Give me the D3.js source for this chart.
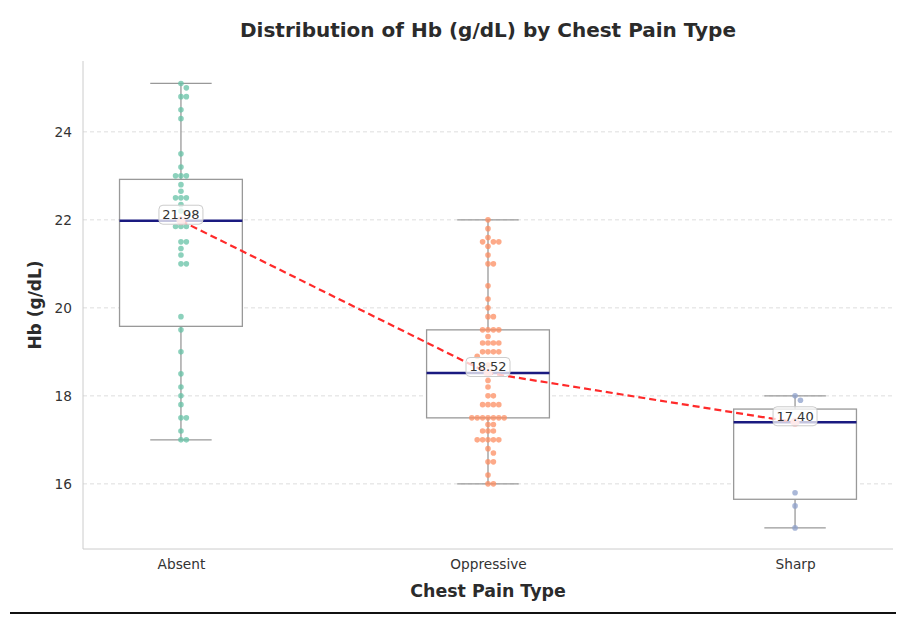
<!DOCTYPE html>
<html>
<head>
<meta charset="utf-8">
<script src="https://cdn.jsdelivr.net/npm/d3@7"></script>
<style>
  body { margin: 0; background: #fff; }
  text { font-family: "DejaVu Sans", sans-serif; }
</style>
</head>
<body>
<script>
// categories and per-group values
categories = ["Absent", "Oppressive", "Sharp"];

absentVals = [25.1, 25.0, 24.8, 24.8, 24.5, 24.3, 23.5, 23.2, 23.0, 23.0, 23.0, 22.8, 22.65,
  22.5, 22.5, 22.5, 22.35, 22.2, 22.0, 21.85, 21.85, 21.85, 21.5, 21.5, 21.35, 21.2, 21.0, 21.0,
  19.8, 19.5, 19.0, 18.5, 18.2, 18.0, 17.8, 17.5, 17.5, 17.2, 17.0, 17.0];
oppressiveVals = [22.0, 21.8, 21.6, 21.5, 21.5, 21.5, 21.4, 21.2, 21.0, 21.0, 20.5, 20.2, 20.0,
  19.8, 19.8, 19.5, 19.5, 19.5, 19.5, 19.35, 19.2, 19.2, 19.2, 19.2, 19.0, 19.0, 19.0, 19.0,
  18.9, 18.7, 18.5, 18.35, 18.2, 18.0, 18.0, 17.8, 17.8, 17.8, 17.8,
  17.5, 17.5, 17.5, 17.5, 17.5, 17.5, 17.5, 17.35, 17.35, 17.2, 17.2, 17.2,
  17.0, 17.0, 17.0, 17.0, 17.0, 16.8, 16.7, 16.5, 16.5, 16.2, 16.0, 16.0];
sharpVals = [18.0, 17.9, 17.4, 15.8, 15.5, 15.0];

// box statistics
q1s = [19.58, 17.5, 15.65];
medians = [21.98, 18.52, 17.40];
q3s = [22.92, 19.5, 17.7];
whiskLo = [17.0, 16.0, 15.0];
whiskHi = [25.1, 22.0, 18.0];
means = [21.98, 18.52, 17.40];

yTicks = [16, 18, 20, 22, 24];
colors = ["#66c2a5", "#fc8d62", "#8da0cb"];

w = 905;
h = 623;
margin = {top: 61, right: 12, bottom: 74, left: 83};

svg = d3.select("body").append("svg")
  .attr("width", w)
  .attr("height", h);

x = d3.scalePoint()
  .domain(categories)
  .range([margin.left, w - margin.right])
  .padding(0.319);

y = d3.scaleLinear()
  .domain([14.52, 25.61])
  .range([h - margin.bottom, margin.top]);

step = x.step();

// grid
svg.append("g")
  .selectAll("line")
  .data(yTicks)
  .enter()
  .append("line")
    .attr("x1", margin.left)
    .attr("x2", w - margin.right)
    .attr("y1", d => y(d))
    .attr("y2", d => y(d))
    .attr("stroke", "#d5d5d5")
    .attr("stroke-width", 0.8)
    .attr("stroke-dasharray", "4,3");

// spines
svg.append("line")
  .attr("x1", margin.left).attr("x2", margin.left)
  .attr("y1", margin.top).attr("y2", h - margin.bottom)
  .attr("stroke", "#cccccc").attr("stroke-width", 1);
svg.append("line")
  .attr("x1", margin.left).attr("x2", w - margin.right)
  .attr("y1", h - margin.bottom).attr("y2", h - margin.bottom)
  .attr("stroke", "#cccccc").attr("stroke-width", 1);

// y axis
yAxis = svg.append("g")
  .attr("transform", "translate(" + margin.left + ",0)")
  .call(d3.axisLeft(y).tickValues(yTicks).tickSize(0).tickPadding(11).tickFormat(d3.format("d")));
yAxis.select(".domain").remove();
yAxis.selectAll("text")
  .attr("font-size", 13.7)
  .attr("fill", "#333")
  .style("font-family", "DejaVu Sans");

// x axis
xAxis = svg.append("g")
  .attr("transform", "translate(0," + (h - margin.bottom) + ")")
  .call(d3.axisBottom(x).tickSize(0).tickPadding(10));
xAxis.select(".domain").remove();
xAxis.selectAll("text")
  .attr("font-size", 13.7)
  .attr("fill", "#333")
  .style("font-family", "DejaVu Sans");

// boxes
boxes = svg.append("g");
categories.forEach((c, i) => {
  var cx = x(c);
  var bw = step * 0.4;
  var cw = step * 0.2;
  var g = boxes.append("g");
  g.append("line")
    .attr("x1", cx).attr("x2", cx)
    .attr("y1", y(whiskHi[i])).attr("y2", y(q3s[i]))
    .attr("stroke", "#999").attr("stroke-width", 1.3);
  g.append("line")
    .attr("x1", cx).attr("x2", cx)
    .attr("y1", y(q1s[i])).attr("y2", y(whiskLo[i]))
    .attr("stroke", "#999").attr("stroke-width", 1.3);
  g.append("line")
    .attr("x1", cx - cw / 2).attr("x2", cx + cw / 2)
    .attr("y1", y(whiskHi[i])).attr("y2", y(whiskHi[i]))
    .attr("stroke", "#999").attr("stroke-width", 1.3);
  g.append("line")
    .attr("x1", cx - cw / 2).attr("x2", cx + cw / 2)
    .attr("y1", y(whiskLo[i])).attr("y2", y(whiskLo[i]))
    .attr("stroke", "#999").attr("stroke-width", 1.3);
  g.append("rect")
    .attr("x", cx - bw / 2)
    .attr("y", y(q3s[i]))
    .attr("width", bw)
    .attr("height", y(q1s[i]) - y(q3s[i]))
    .attr("fill", "white")
    .attr("stroke", "#999")
    .attr("stroke-width", 1.3);
  g.append("line")
    .attr("x1", cx - bw / 2).attr("x2", cx + bw / 2)
    .attr("y1", y(medians[i])).attr("y2", y(medians[i]))
    .attr("stroke", "#1a1a80").attr("stroke-width", 2.5);
});

// swarm layout: place each point at the closest free spot to the center
function swarm(vals, cx, r) {
  var placed = [];
  var d = 2 * r;
  var sorted = vals.slice().sort((a, b) => b - a);
  sorted.forEach(v => {
    var py = y(v);
    var cands = [0];
    for (var k = 1; k < 20; k++) { cands.push(k * d * 0.5); cands.push(-k * d * 0.5); }
    var best = null;
    for (var j = 0; j < cands.length; j++) {
      var ox = cands[j];
      var ok = placed.every(p => Math.hypot(p.x - (cx + ox), p.y - py) >= d - 0.01);
      if (ok) { best = ox; break; }
    }
    placed.push({x: cx + best, y: py});
  });
  return placed;
}

groups = [absentVals, oppressiveVals, sharpVals];
groups.forEach((vals, i) => {
  var pts = swarm(vals, x(categories[i]), 2.7);
  svg.append("g")
    .selectAll("circle")
    .data(pts)
    .enter()
    .append("circle")
      .attr("cx", d => d.x)
      .attr("cy", d => d.y)
      .attr("r", 2.8)
      .attr("fill", colors[i])
      .attr("opacity", 0.75);
});

// mean line
line = d3.line()
  .x((d, i) => x(categories[i]))
  .y(d => y(d));
svg.append("path")
  .datum(means)
  .attr("d", line)
  .attr("fill", "none")
  .attr("stroke", "#ff2a2a")
  .attr("stroke-width", 2.2)
  .attr("stroke-dasharray", "7,4");

svg.append("g")
  .selectAll("circle")
  .data(means)
  .enter()
  .append("circle")
    .attr("cx", (d, i) => x(categories[i]))
    .attr("cy", d => y(d))
    .attr("r", 4.5)
    .attr("fill", "#ffb0b0")
    .attr("opacity", 0.9);

// median labels
labels = svg.append("g");
medians.forEach((m, i) => {
  var cx = x(categories[i]);
  var cy = y(m) - 6;
  labels.append("rect")
    .attr("x", cx - 22)
    .attr("y", cy - 9.5)
    .attr("width", 44)
    .attr("height", 19)
    .attr("rx", 4)
    .attr("fill", "white")
    .attr("fill-opacity", 0.75)
    .attr("stroke", "#cccccc")
    .attr("stroke-width", 1);
  labels.append("text")
    .attr("x", cx)
    .attr("y", cy + 4.5)
    .attr("text-anchor", "middle")
    .attr("font-size", 13)
    .attr("fill", "#333")
    .text(m.toFixed(2));
});

// titles
svg.append("text")
  .attr("x", (margin.left + w - margin.right) / 2)
  .attr("y", 37)
  .attr("text-anchor", "middle")
  .attr("font-size", 20)
  .attr("font-weight", "bold")
  .attr("fill", "#2b2b2b")
  .text("Distribution of Hb (g/dL) by Chest Pain Type");

svg.append("text")
  .attr("x", (margin.left + w - margin.right) / 2)
  .attr("y", 597)
  .attr("text-anchor", "middle")
  .attr("font-size", 17.4)
  .attr("font-weight", "bold")
  .attr("fill", "#2b2b2b")
  .text("Chest Pain Type");

svg.append("text")
  .attr("transform", "translate(41," + ((margin.top + h - margin.bottom) / 2) + ") rotate(-90)")
  .attr("text-anchor", "middle")
  .attr("font-size", 17)
  .attr("font-weight", "bold")
  .attr("fill", "#2b2b2b")
  .text("Hb (g/dL)");

// rule at the bottom
svg.append("line")
  .attr("x1", 10).attr("x2", 896)
  .attr("y1", 613).attr("y2", 613)
  .attr("stroke", "#111").attr("stroke-width", 2);
</script>
</body>
</html>
